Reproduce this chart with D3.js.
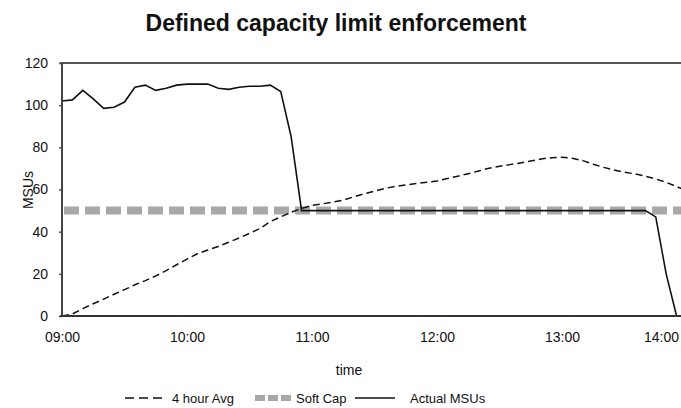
<!DOCTYPE html>
<html>
<head>
<meta charset="utf-8">
<script src="https://cdn.jsdelivr.net/npm/d3@7/dist/d3.min.js"></script>
<style>
  body { margin: 0; background: #fff; }
  text { font-family: "Liberation Sans", Arial, sans-serif; fill: #111; }
</style>
</head>
<body>
<div id="chart"></div>
<script>
// VARIABLES
var width = 681;
var height = 408;

// minutes after 09:00, one sample every 5 minutes
var minutes = d3.range(0, 305, 5);

// 4 hour rolling average
var avg4h = [0, 1, 3.5, 5.8, 8, 10.3, 12.5, 14.8, 16.8, 19, 21.5, 24.3, 27, 29.5,
  31.3, 33, 35, 37, 39.2, 41.5, 44.8, 47, 49.2, 51, 52.5, 53.2, 54, 55, 56.5, 58,
  59.2, 60.5, 61.5, 62.2, 62.8, 63.4, 64, 65.2, 66.3, 67.5, 68.8, 70.1, 71, 71.8,
  72.6, 73.5, 74.5, 75.1, 75.3, 74.8, 73.7, 72, 70.5, 69.2, 68.2, 67.4, 66.3, 65,
  63.4, 61.4, 59.4];

// actual MSUs
var actual = [102, 102.5, 107, 103, 98.5, 99, 101.5, 108.5, 109.5, 107, 108, 109.5,
  110, 110, 110, 108, 107.5, 108.5, 109, 109, 109.5, 106.5, 85, 50, 50, 50, 50, 50,
  50, 50, 50, 50, 50, 50, 50, 50, 50, 50, 50, 50, 50, 50, 50, 50, 50, 50, 50, 50,
  50, 50, 50, 50, 50, 50, 50, 50, 50, 47, 20, 0, 0];

// soft cap
var softCap = minutes.map(function() { return 50; });

var xTicks = [0, 60, 120, 180, 240, 300];
var xLabels = ["09:00", "10:00", "11:00", "12:00", "13:00", "14:00"];
var yTicks = [0, 20, 40, 60, 80, 100, 120];

var legendNames = ["4 hour Avg", "Soft Cap", "Actual MSUs"];

var plotLeft = 62, plotRight = 681, plotTop = 63, plotBottom = 316;

var svg = d3.select("#chart")
  .append("svg")
  .attr("width", width)
  .attr("height", height);

var xScale = d3.scaleLinear()
  .domain([0, 300])
  .range([62, 687]);

var yScale = d3.scaleLinear()
  .domain([0, 120])
  .range([plotBottom, plotTop]);

// Title
svg.append("text")
  .attr("x", 336)
  .attr("y", 31)
  .attr("text-anchor", "middle")
  .style("font-size", "23px")
  .style("font-weight", "bold")
  .text("Defined capacity limit enforcement");

// top gridline
svg.append("line")
  .attr("x1", plotLeft - 2).attr("x2", plotRight)
  .attr("y1", yScale(120)).attr("y2", yScale(120))
  .attr("stroke", "#555").attr("stroke-width", 2);

// Y axis
var yAxis = d3.axisLeft(yScale)
  .tickValues(yTicks)
  .tickSize(3)
  .tickPadding(11)
  .tickSizeOuter(0);

var gy = svg.append("g")
  .attr("transform", "translate(" + plotLeft + ",0)")
  .call(yAxis);
gy.select(".domain").remove();
gy.selectAll(".tick line").attr("stroke", "#555").attr("stroke-width", 1.5);
gy.selectAll(".tick text").style("font-size", "14px").attr("fill", "#111")
  .style("font-family", "'Liberation Sans', Arial, sans-serif");

// X axis
var xAxis = d3.axisBottom(xScale)
  .tickValues(xTicks)
  .tickFormat(function(d, i) { return xLabels[i]; })
  .tickSize(0)
  .tickPadding(16);

var gx = svg.append("g")
  .attr("transform", "translate(0," + plotBottom + ")")
  .call(xAxis);
gx.select(".domain").remove();
gx.selectAll(".tick text").style("font-size", "14px").attr("fill", "#111")
  .style("font-family", "'Liberation Sans', Arial, sans-serif");

// keep the last label inside the picture
gx.selectAll(".tick").each(function() {
  var tick = d3.select(this);
  var txt = tick.select("text").node();
  var w = txt.getComputedTextLength();
  var pos = +tick.attr("transform").match(/translate\(([-\d.]+)/)[1];
  if (pos + w / 2 > plotRight - 2) {
    tick.select("text").attr("x", (plotRight - 2 - w / 2) - pos);
  }
});

// clip
svg.append("clipPath").attr("id", "plot-clip")
  .append("rect")
  .attr("x", plotLeft).attr("y", plotTop - 5)
  .attr("width", plotRight - plotLeft).attr("height", plotBottom - plotTop + 10);

var plot = svg.append("g").attr("clip-path", "url(#plot-clip)");

var line = function(values) {
  return d3.line()
    .x(function(d, i) { return xScale(minutes[i]); })
    .y(function(d) { return yScale(d); })(values);
};

plot.append("path")
  .attr("d", line(softCap))
  .attr("fill", "none")
  .attr("stroke", "#a8a8a8")
  .attr("stroke-width", 8)
  .attr("stroke-dasharray", "15,6")
  .attr("stroke-dashoffset", -2);

plot.append("path")
  .attr("d", line(avg4h))
  .attr("fill", "none")
  .attr("stroke", "#111")
  .attr("stroke-width", 1.5)
  .attr("stroke-dasharray", "7,4");

plot.append("path")
  .attr("d", line(actual))
  .attr("fill", "none")
  .attr("stroke", "#111")
  .attr("stroke-width", 1.6);

// axis lines
svg.append("line")
  .attr("x1", plotLeft).attr("x2", plotLeft)
  .attr("y1", plotTop).attr("y2", plotBottom)
  .attr("stroke", "#444").attr("stroke-width", 2);
svg.append("line")
  .attr("x1", plotLeft - 2).attr("x2", plotRight)
  .attr("y1", plotBottom).attr("y2", plotBottom)
  .attr("stroke", "#333").attr("stroke-width", 2);

// axis titles
svg.append("text")
  .attr("transform", "translate(33,190) rotate(-90)")
  .attr("text-anchor", "middle")
  .style("font-size", "14px")
  .text("MSUs");

svg.append("text")
  .attr("x", 349)
  .attr("y", 375)
  .attr("text-anchor", "middle")
  .style("font-size", "14px")
  .text("time");

// Legend
var legendStyles = [
  { x: 125, w: 40, stroke: "#111", width: 1.5, dash: "9,5" },
  { x: 255, w: 36, stroke: "#a8a8a8", width: 6, dash: "10,3" },
  { x: 355, w: 40, stroke: "#111", width: 1.6, dash: null }
];
var legendTextX = [172, 296, 410];
var ly = 398;
legendNames.forEach(function(name, i) {
  var s = legendStyles[i];
  svg.append("line")
    .attr("x1", s.x).attr("x2", s.x + s.w)
    .attr("y1", ly).attr("y2", ly)
    .attr("stroke", s.stroke)
    .attr("stroke-width", s.width)
    .attr("stroke-dasharray", s.dash);
  svg.append("text")
    .attr("x", legendTextX[i])
    .attr("y", ly + 5)
    .style("font-size", "13px")
    .text(name);
});
</script>
</body>
</html>
